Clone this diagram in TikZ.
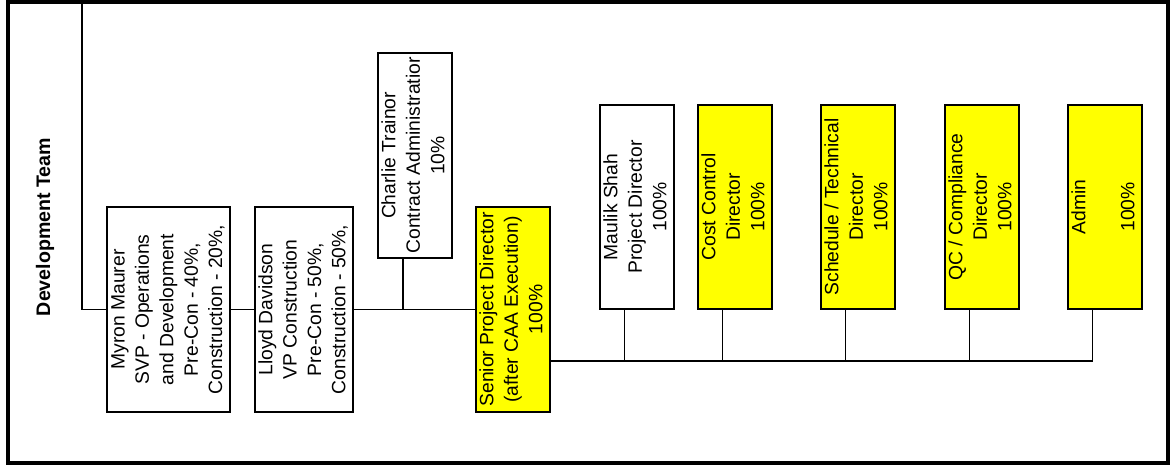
\documentclass[tikz,border=0pt]{standalone}
\usepackage{fontspec}
\setmainfont{Liberation Sans}
\usetikzlibrary{positioning,calc}

\definecolor{openfill}{RGB}{255,255,0}
\newcommand{\vtext}[1]{\rotatebox{90}{\begin{tabular}{@{}c@{}}#1\end{tabular}}}

\begin{document}
\begin{tikzpicture}[
  x=1pt, y=-1pt,
  font=\fontsize{19.3}{24.4}\selectfont,
  rolebox/.style={draw, line width=2pt, fill=white, inner sep=0pt, minimum width=74pt, minimum height=205pt},
  openbox/.style={rolebox, fill=openfill},
  link/.style={line width=1.8pt}
]
\useasboundingbox (0,0) rectangle (1173,465);
\draw[line width=4pt] (8,2) rectangle (1168,462.5);

\node[rotate=90, font=\fontsize{19.6}{24}\selectfont\bfseries] (team) at (45,227) {Development Team};

\node[rolebox, minimum width=123pt] (myron)   at (168.5,309.5) {\vtext{Myron Maurer\\SVP - Operations\\and Development\\Pre-Con - 40\%,\\Construction - 20\%,}};
\node[rolebox, minimum width=98pt]  (lloyd)   at (304,309.5)   {\vtext{Lloyd Davidson\\VP Construction\\Pre-Con - 50\%,\\Construction - 50\%,}};
\node[rolebox]                      (charlie) at (415,155.5)   {\vtext{Charlie Trainor\\Contract Administratior\\10\%}};
\node[openbox]                      (senior)  at (513,309.5)   {\vtext{Senior Project Director\\(after CAA Execution)\\100\%}};
\node[rolebox, minimum height=204pt] (maulik) at (637,207)     {\vtext{Maulik Shah\\Project Director\\100\%}};
\node[openbox, minimum height=204pt] (cost)   at (735,207)     {\vtext{Cost Control\\Director\\100\%}};
\node[openbox, minimum height=204pt] (sched)  at (858,207)     {\vtext{Schedule / Technical\\Director\\100\%}};
\node[openbox, minimum height=204pt] (qc)     at (982,207)     {\vtext{QC / Compliance\\Director\\100\%}};
\node[openbox, minimum height=204pt] (admin)  at (1105,207)    {\vtext{Admin\\ \\100\%}};

\coordinate (top) at (82,2);
\coordinate (bus) at ([yshift=-51.5pt]senior.east);

\draw[link] (top) |- (myron.west);
\draw[link] (myron.east) -- (lloyd.west);
\draw[link] (lloyd.east) -- (senior.west);
\draw[link] ([xshift=-12pt]charlie.south) -- ([xshift=-12pt]charlie.south |- senior.west);
\draw[link] (bus) -| ([xshift=-12.5pt]admin.south);
\draw[link] ([xshift=-12.5pt]maulik.south) -- ([xshift=-12.5pt]maulik.south |- bus);
\draw[link] ([xshift=-12.5pt]cost.south) -- ([xshift=-12.5pt]cost.south |- bus);
\draw[link] ([xshift=-12.5pt]sched.south) -- ([xshift=-12.5pt]sched.south |- bus);
\draw[link] ([xshift=-12.5pt]qc.south) -- ([xshift=-12.5pt]qc.south |- bus);
\end{tikzpicture}
\end{document}
